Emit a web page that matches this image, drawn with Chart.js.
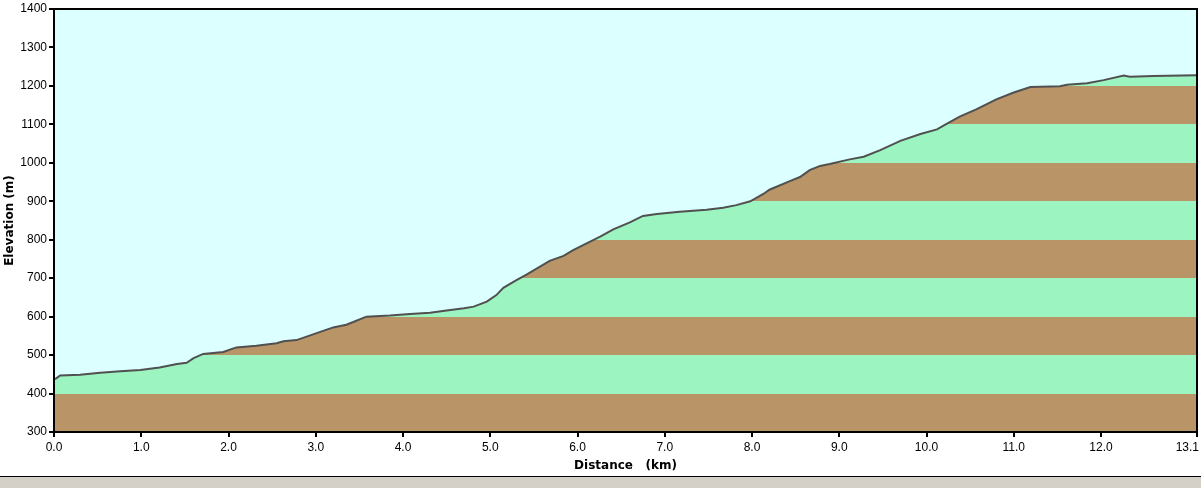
<!DOCTYPE html>
<html>
<head>
<meta charset="utf-8">
<script src="https://cdn.jsdelivr.net/npm/chart.js@4.4.1/dist/chart.umd.min.js"></script>
<style>
  html, body { margin:0; padding:0; background:#fff; }
  #wrap { position:relative; width:1201px; height:476px; }
  #bar  { width:1201px; height:11px; border-top:1px solid #000; background:#d4d0c8; }
</style>
</head>
<body>
<div id="wrap"><canvas id="profile"></canvas></div>
<div id="bar"></div>
<script>
// ─── Data ────────────────────────────────────────────────────────────────────
const distKm = [0.00, 0.03, 0.07, 0.30, 0.53, 0.76, 0.99, 1.21, 1.41, 1.52, 1.60, 1.71,
  1.94, 2.09, 2.32, 2.55, 2.63, 2.78, 3.01, 3.20, 3.35, 3.43, 3.58, 3.85, 4.08, 4.31,
  4.50, 4.70, 4.81, 4.96, 5.07, 5.15, 5.30, 5.42, 5.57, 5.68, 5.84, 5.95, 6.11, 6.26,
  6.41, 6.60, 6.75, 6.91, 7.17, 7.48, 7.67, 7.82, 7.98, 8.13, 8.20, 8.44, 8.55, 8.66,
  8.78, 8.89, 9.12, 9.28, 9.47, 9.70, 9.93, 10.12, 10.23, 10.38, 10.57, 10.80, 11.00,
  11.19, 11.53, 11.61, 11.84, 12.03, 12.26, 12.33, 12.60, 13.10];
const elevM = [437, 440, 447, 449, 454, 458, 461, 468, 477, 480, 492, 503,
  508, 520, 524, 531, 536, 539, 557, 572, 579, 586, 600, 603, 607, 610,
  616, 622, 626, 639, 656, 675, 695, 710, 730, 745, 758, 773, 791, 808,
  827, 845, 862, 867, 873, 878, 883, 890, 900, 919, 930, 953, 963, 981,
  992, 997, 1009, 1016, 1033, 1057, 1075, 1087, 1101, 1120, 1139, 1165, 1183,
  1197, 1199, 1203, 1207, 1215, 1227, 1224, 1226, 1228];
const xTicks = [0, 1, 2, 3, 4, 5, 6, 7, 8, 9, 10, 11, 12, 13.1];
const yMin = 300, yMax = 1400, band = 100;

// ─── Design tokens ───────────────────────────────────────────────────────────
const C = {
  sky:   '#dcffff',
  brown: '#b89467',
  green: '#9cf4c0',
  line:  '#505050',
  ink:   '#000000',
};
const TICK_FONT  = { family:"'Liberation Sans', Arial, sans-serif", size:12 };
const TITLE_FONT = { family:"'DejaVu Sans', sans-serif", size:12, weight:'bold' };

// striped fill: hard-edged vertical gradient, one stop pair per 100 m band
function stripes(context) {
  const chart = context.chart;
  const { ctx, chartArea, scales } = chart;
  if (!chartArea || !scales.y) return C.brown;
  const y0 = scales.y.getPixelForValue(yMin), y1 = scales.y.getPixelForValue(yMax);
  const g = ctx.createLinearGradient(0, y0, 0, y1);
  const n = (yMax - yMin) / band;
  for (let i = 0; i < n; i++) {
    const col = i % 2 === 0 ? C.brown : C.green;
    g.addColorStop(i / n, col);
    g.addColorStop((i + 1) / n, col);
  }
  return g;
}

const frame = {
  id: 'frame',
  beforeDraw(chart) {
    const { ctx, chartArea: a } = chart;
    ctx.save();
    ctx.fillStyle = C.sky;
    ctx.fillRect(a.left, a.top, a.right - a.left, a.bottom - a.top);
    ctx.restore();
  },
  afterDraw(chart) {
    const { ctx, chartArea: a, scales } = chart;
    ctx.save();
    ctx.strokeStyle = C.ink; ctx.lineWidth = 2;
    ctx.strokeRect(a.left, a.top, a.right - a.left, a.bottom - a.top);
    // x tick labels (last one kept inside the canvas)
    ctx.fillStyle = C.ink;
    ctx.font = TICK_FONT.size + 'px ' + TICK_FONT.family;
    ctx.textBaseline = 'middle';
    ctx.textAlign = 'left';
    scales.x.ticks.forEach(t => {
      const s = t.value.toFixed(1);
      const w = ctx.measureText(s).width;
      let x = scales.x.getPixelForValue(t.value) - w / 2;
      x = Math.min(x, chart.width - 2 - w);
      ctx.fillText(s, x, a.bottom + 16);
    });
    ctx.restore();
  }
};

new Chart(document.getElementById('profile'), {
  type: 'line',
  data: {
    datasets: [{
      label: 'Elevation',
      data: distKm.map((d, i) => ({ x: d, y: elevM[i] })),
      borderColor: C.line, borderWidth: 2,
      backgroundColor: stripes, fill: 'start',
      pointRadius: 0, tension: 0,
    }]
  },
  options: {
    responsive: true, maintainAspectRatio: false, animation: false,
    layout: { padding: { top: 9, right: 4, left: 0, bottom: 0 } },
    plugins: { legend: { display: false }, tooltip: { enabled: false } },
    scales: {
      x: {
        type: 'linear', min: 0, max: 13.1,
        afterBuildTicks: s => { s.ticks = xTicks.map(v => ({ value: v })); },
        afterFit: s => { s.height = 44; s.paddingLeft = 0; s.paddingRight = 0; },
        ticks: { display: false },
        grid: { drawOnChartArea: false, drawTicks: true, tickLength: 5, color: C.ink, lineWidth: 2 },
        border: { color: C.ink, width: 2 },
        title: { display: true, text: 'Distance   (km)', color: C.ink, font: TITLE_FONT, padding: { top: 0, bottom: 3 } },
      },
      y: {
        min: yMin, max: yMax,
        afterFit: s => { s.width = 54; s.paddingTop = 0; s.paddingBottom = 0; },
        ticks: { stepSize: band, color: C.ink, font: TICK_FONT, padding: 2, callback: v => String(v) },
        grid: { drawOnChartArea: false, drawTicks: true, tickLength: 5, color: C.ink, lineWidth: 2 },
        border: { color: C.ink, width: 2 },
        title: { display: true, text: 'Elevation (m)', color: C.ink, font: TITLE_FONT, padding: { top: 3, bottom: 0 } },
      }
    }
  },
  plugins: [frame]
});
</script>
</body>
</html>
